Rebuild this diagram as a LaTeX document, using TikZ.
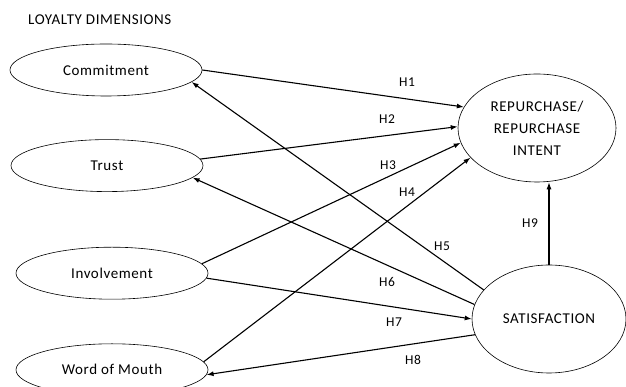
\documentclass[tikz,border=0pt]{standalone}
\usepackage{fontspec}
\setsansfont{Carlito}[LetterSpace=4]
\usetikzlibrary{positioning, arrows.meta, shapes.geometric}

\begin{document}
\begin{tikzpicture}[
    x=1pt, y=1pt,
    font=\sffamily,
    >={Latex[length=7pt,width=5pt]},
    dimension/.style={
        draw=black,
        ellipse,
        line width=0.6pt,
        inner sep=0pt,
        minimum width=192pt,
        minimum height=52pt,
        align=center,
        font=\sffamily\fontsize{15}{17}\selectfont
    },
    outcome/.style={
        dimension,
        minimum width=158pt,
        minimum height=108pt,
        font=\sffamily\fontsize{15}{22}\selectfont
    },
    hyp/.style={
        inner sep=0pt,
        font=\sffamily\fontsize{13.5}{15}\selectfont
    },
    header/.style={
        anchor=west,
        inner sep=0pt,
        font=\sffamily\fontsize{15}{17}\selectfont
    },
    arrow/.style={
        draw=black,
        ->,
        line width=1.1pt
    }
]
\useasboundingbox (0,0) rectangle (626,387);

% ================= LOYALTY DIMENSIONS =================
\node[header] (title) at (28,367) {LOYALTY DIMENSIONS};

\node[dimension] (commit) at (106,317) {Commitment};
\node[dimension, below=43pt of commit, xshift=1pt] (trust) {Trust};
\node[dimension, below=55pt of trust, xshift=5pt] (inv) {Involvement};
\node[dimension, below=44pt of inv] (wom) {Word of Mouth};

% ================= OUTCOMES =================
\node[outcome] (repur) at (537,259) {REPURCHASE/\\REPURCHASE\\INTENT};
\node[outcome, minimum width=154pt] (satis) at (549,68) {SATISFACTION};

% ================= HYPOTHESES =================
\draw[arrow] (commit.east) -- (repur.164);
\draw[arrow] (trust.4) -- (repur.179);
\draw[arrow] (inv.6) -- (repur.191);
\draw[arrow] (wom.5) -- (repur.204);
\draw[arrow] (satis.156) -- (commit.352);
\draw[arrow] (satis.169) -- (trust.352);
\draw[arrow] (inv.357) -- (satis.west);
\draw[arrow] (satis.192) -- (wom.357);
\draw[arrow] (satis.north) -- (satis.north |- repur.south);

\node[hyp] (h1) at (407,305) {H1};
\node[hyp] (h2) at (387,268) {H2};
\node[hyp] (h3) at (388,222) {H3};
\node[hyp] (h4) at (407,195) {H4};
\node[hyp] (h5) at (442,141) {H5};
\node[hyp] (h6) at (387,105) {H6};
\node[hyp] (h7) at (394,65) {H7};
\node[hyp] (h8) at (413,27) {H8};
\node[hyp] (h9) at (530,164) {H9};

\end{tikzpicture}
\end{document}
